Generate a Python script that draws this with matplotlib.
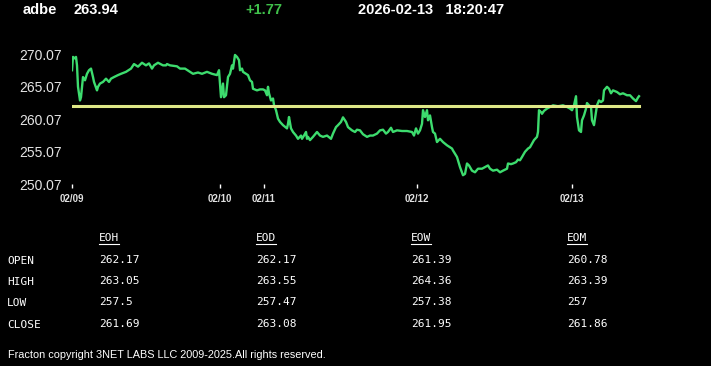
import matplotlib.pyplot as plt

# intraday trace: t = sample number on the chart's time axis
t = [0, 1, 3, 4, 5, 6, 8, 9, 11, 13, 15, 17, 19, 21, 22, 25, 26, 28, 31, 34, 37, 39, 42, 46, 49, 54, 59, 62, 66, 70,
     74, 77, 80, 82, 86, 91, 94,
     95, 98, 105, 108, 113, 118, 121, 126, 130, 135, 140, 145, 147, 149, 151, 152, 154, 156, 158, 160, 161, 163, 165,
     167, 168, 170, 171, 174, 176, 178, 180, 181, 185, 188,
     191, 193, 195, 196, 197, 199, 201, 202, 204, 206, 208, 211, 215, 216, 217, 219, 221, 224, 226, 229, 230, 232, 234,
     235, 236, 238, 241, 245, 248, 251, 255, 259, 261, 264, 266, 269, 271, 274, 276, 280, 283,
     285, 288, 291, 295, 298, 301, 305, 308, 311, 314, 316, 319, 321, 325, 330, 335, 340, 342, 344, 346, 348, 350, 351,
     353, 355, 356, 358, 360, 361, 363, 365, 368, 371, 375, 378,
     380, 381, 385, 388, 391, 393, 395, 397, 400, 403, 406, 410, 413, 416, 418, 421, 425, 428, 431, 435, 436, 439, 441,
     444, 446, 448, 450, 453, 456, 458, 460, 462, 465, 466, 467, 469, 470, 472,
     475, 478, 481, 486, 491, 495, 498, 500, 502, 504, 505, 507, 509, 510, 512, 514, 515, 517, 519, 520, 522, 524, 525,
     527, 529, 531, 532, 535, 537, 539, 541, 545, 548, 551, 555, 558, 561, 564, 566, 567]
price = [267.65, 269.7, 269.45, 269.7, 268.4, 265.1, 263.0, 263.5, 266.6, 266.1, 267.1, 267.65, 267.9, 266.6, 265.85,
         264.55, 265.1, 265.6, 265.85, 266.35, 265.85, 266.35, 266.6, 266.9, 267.1, 267.4, 267.9, 268.6, 268.2, 268.8,
         268.4, 268.7, 267.9, 268.4, 268.8, 268.4, 268.4,
         268.6, 268.4, 268.25, 267.9, 267.9, 267.4, 267.1, 267.3, 267.1, 267.4, 267.1, 266.9, 267.65, 263.5, 265.6,
         263.5, 263.8, 266.6, 267.1, 268.4, 267.9, 270.0, 269.7, 269.2, 267.65, 267.9, 267.4, 267.1, 266.9, 266.1,
         265.85, 264.8, 264.55, 264.7,
         264.7, 264.55, 263.8, 265.1, 264.1, 263.0, 263.3, 262.3, 261.5, 260.2, 259.7, 259.2, 258.7, 259.4, 260.45,
         258.7, 258.15, 257.6, 257.1, 257.6, 257.1, 257.6, 258.15, 257.1, 257.4, 256.9, 257.4, 258.15, 257.6, 257.4,
         257.6, 257.1, 257.9, 258.9, 259.2, 259.7, 260.4, 259.7, 258.9, 258.4, 258.15,
         258.5, 258.4, 257.8, 257.4, 257.6, 257.6, 257.9, 258.4, 258.5, 257.9, 258.15, 258.8, 258.15, 258.4, 258.3,
         258.3, 258.15, 257.6, 258.7, 257.9, 258.4, 259.4, 261.5, 260.45, 261.5, 259.95, 260.7, 258.9, 258.15, 257.9,
         256.6, 257.1, 256.6, 256.1, 255.8,
         255.6, 255.3, 254.3, 252.75, 251.5, 251.7, 253.3, 253.0, 252.2, 251.95, 252.5, 252.5, 252.75, 253.0, 252.5,
         252.2, 252.35, 251.95, 252.2, 252.5, 253.3, 253.2, 253.3, 253.5, 253.9, 253.8, 254.3, 255.1, 255.6, 255.8,
         256.35, 256.9, 257.4, 258.15, 261.5, 261.2, 260.95, 261.4,
         261.75, 262.0, 262.25, 262.1, 262.25, 262.0, 261.75, 261.5, 262.25, 263.65, 260.45, 258.4, 258.15, 259.95,
         260.7, 261.75, 262.6, 262.25, 262.0, 259.95, 259.2, 261.2, 262.25, 263.0, 262.75, 263.0, 264.55, 265.1, 264.8,
         264.1, 264.55, 264.3, 263.95, 264.1, 263.8, 263.8, 263.3, 262.9, 263.45, 263.65]

prev_close = 262.17
day_ticks = [0, 148, 192, 345, 500]
day_labels = ["02/09", "02/10", "02/11", "02/12", "02/13"]
y_ticks = [250.07, 255.07, 260.07, 265.07, 270.07]

symbol = "adbe"
last = "263.94"
change = "+1.77"
stamp = "2026-02-13   18:20:47"

col_names = ["EOH", "EOD", "EOW", "EOM"]
row_names = ["OPEN", "HIGH", "LOW", "CLOSE"]
table = [["262.17", "262.17", "261.39", "260.78"],
         ["263.05", "263.55", "264.36", "263.39"],
         ["257.5", "257.47", "257.38", "257"],
         ["261.69", "263.08", "261.95", "261.86"]]

W, H = 711, 366
fig = plt.figure(figsize=(W / 100, H / 100), dpi=100, facecolor="black")


def put(x, y, s, **kw):
    # place text using pixel coords measured from the top-left
    fig.text(x / W, 1 - y / H, s, va="center", **kw)


ax = fig.add_axes([72 / W, 1 - 184.5 / H, (645 - 72) / W, (184.5 - 40) / H])
ax.set_facecolor("black")
ax.plot(t, price, color="#3ddc6e", lw=1.7, solid_joinstyle="round")
ax.plot([t[0], t[-1]], [prev_close, prev_close], color="#dfe887", lw=2.2)
ax.set_xlim(0, 573)
ax.set_ylim(250.07, 272.3)
ax.set_yticks(y_ticks)
ax.set_yticklabels(["%.2f" % v for v in y_ticks])
ax.set_xticks(day_ticks)
ax.set_xticklabels(day_labels)
for s in ax.spines.values():
    s.set_visible(False)
ax.tick_params(axis="y", length=0, pad=7, labelsize=10, labelcolor="#e4e4e4")
ax.tick_params(axis="x", length=3, width=1, color="white", direction="out", pad=4,
               labelsize=7, labelcolor="#e0e0e0")
for lab in ax.get_yticklabels():
    lab.set_fontfamily("Liberation Sans")
for lab in ax.get_xticklabels():
    lab.set_fontfamily("Liberation Sans")
    lab.set_fontweight("bold")

hdr = dict(fontsize=10.5, fontweight="bold", family="Liberation Sans")
put(23, 10.5, symbol, color="white", **hdr)
put(73, 10.5, last, color="white", **hdr)
put(245, 10.5, change, color="#3fbf4a", **hdr)
put(358, 10.5, stamp, color="white", **hdr)

mono = dict(fontsize=8, family="DejaVu Sans Mono", color="white")
col_x = [99, 256, 411, 567]
row_y = [261, 282, 303, 325]
for i, name in enumerate(col_names):
    put(col_x[i], 238, name, **mono)
    fig.add_artist(plt.Line2D([col_x[i] / W, (col_x[i] + 20) / W], [1 - 244 / H, 1 - 244 / H],
                              color="white", lw=0.8))
for j, name in enumerate(row_names):
    put(7, row_y[j], name, **mono)
    for i in range(len(col_names)):
        put(col_x[i], row_y[j] - 1, table[j][i], **mono)

put(8, 355, "Fracton copyright 3NET LABS LLC 2009-2025.All rights reserved.",
    color="white", fontsize=7.8, family="Liberation Sans")

fig.savefig("out.png", dpi=100, facecolor="black")
